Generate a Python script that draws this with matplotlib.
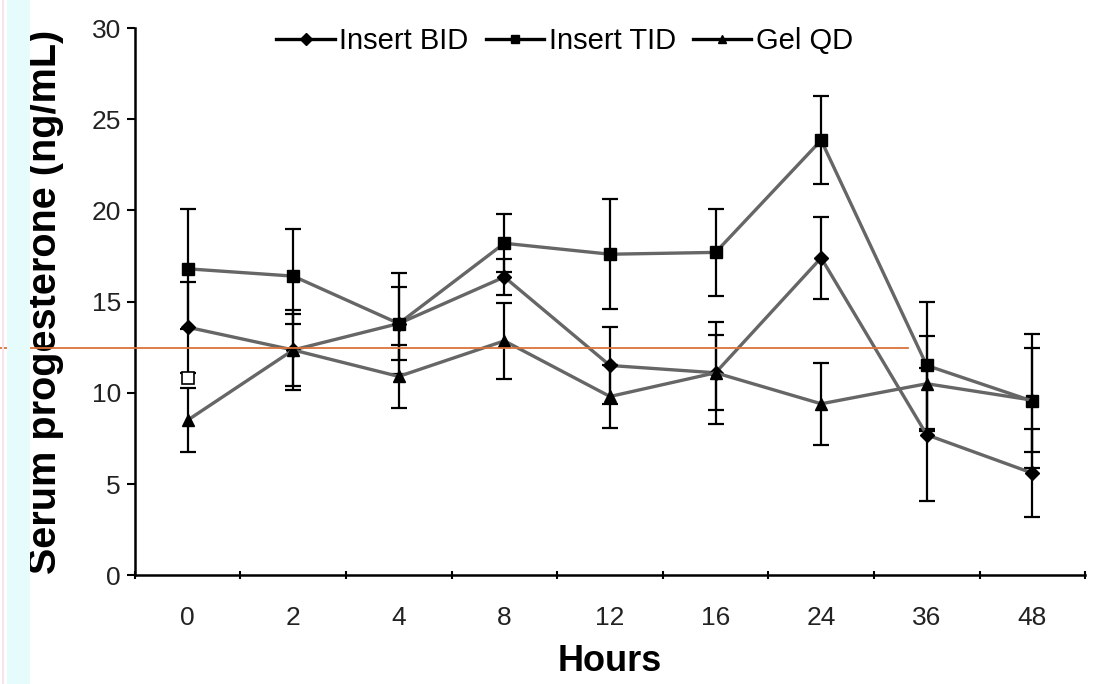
import matplotlib
matplotlib.use("Agg")
import matplotlib.pyplot as plt
from matplotlib.patches import Rectangle

plt.rcParams['font.family'] = ['Liberation Sans', 'DejaVu Sans']

# ---- data ----
hours = ["0", "2", "4", "8", "12", "16", "24", "36", "48"]
bid_mean = [13.6, 12.35, 13.8, 16.35, 11.5, 11.1, 17.4, 7.7, 5.6]
bid_err = [2.5, 2.0, 2.0, 1.0, 2.1, 2.8, 2.25, 3.65, 2.4]
tid_mean = [16.8, 16.4, 13.8, 18.2, 17.6, 17.7, 23.85, 11.5, 9.55]
tid_err = [3.3, 2.6, 2.75, 1.6, 3.0, 2.4, 2.4, 3.5, 3.65]
gel_mean = [8.5, 12.35, 10.9, 12.85, 9.8, 11.1, 9.4, 10.5, 9.6]
gel_err = [1.75, 2.2, 1.75, 2.1, 1.75, 2.05, 2.25, 2.6, 2.85]
open_mark_hour = ["0"]
open_mark_value = [10.8]
ref_line_value = 12.45
series_names = ["Insert BID", "Insert TID", "Gel QD"]
yticks = [0, 5, 10, 15, 20, 25, 30]

fig = plt.figure(figsize=(11.05, 6.84), dpi=100)
fig.patch.set_facecolor('white')
# left strip
fig.patches.append(Rectangle((0.006, 0), 0.021, 1, transform=fig.transFigure,
                             facecolor='#e6fbfb', edgecolor='none', zorder=0))
fig.patches.append(Rectangle((0.0015, 0), 0.0025, 1, transform=fig.transFigure,
                             facecolor='#f6e4ea', edgecolor='none', zorder=0))

ax = fig.add_axes([0.122, 0.159, 0.860, 0.800])
x = list(range(len(hours)))
idx = {h: i for i, h in enumerate(hours)}

line_col = '#666666'
styles = [
    (bid_mean, bid_err, 'D', 7),
    (tid_mean, tid_err, 's', 9),
    (gel_mean, gel_err, '^', 9),
]
handles = []
for (m, e, mk, ms), name in zip(styles, series_names):
    ax.errorbar(x, m, yerr=e, fmt='none', ecolor='black', elinewidth=1.6,
                capsize=6, capthick=1.6, zorder=2)
    h, = ax.plot(x, m, color=line_col, lw=2.4, marker=mk, markersize=ms,
                 markerfacecolor='black', markeredgecolor='black', zorder=3,
                 label=name)
    handles.append(h)

ax.plot([idx[h] for h in open_mark_hour], open_mark_value, linestyle='none',
        marker='s', markersize=8, markerfacecolor='white',
        markeredgecolor='black', markeredgewidth=1.2, zorder=4)

ax.set_xlim(-0.5, len(hours) - 0.5)
ax.set_ylim(0, 30)
ax.set_yticks(yticks)
ax.set_yticklabels([str(v) for v in yticks])
ax.set_xticks([i - 0.5 for i in range(len(hours) + 1)])
ax.set_xticklabels([])
ax.set_xticks(x, minor=True)
ax.set_xticklabels(hours, minor=True)
ax.tick_params(axis='x', which='minor', length=0, pad=22, labelsize=19,
               labelcolor='#222222')
ax.tick_params(axis='x', which='major', length=6, width=1.5, direction='inout')
ax.tick_params(axis='y', length=6, width=1.5, direction='out', pad=4,
               labelsize=19, labelcolor='#222222')
for s in ['top', 'right']:
    ax.spines[s].set_visible(False)
for s in ['left', 'bottom']:
    ax.spines[s].set_linewidth(1.8)

ax.set_ylabel("Serum progesterone (ng/mL)", fontsize=28.5, fontweight='bold',
              labelpad=20)
ax.set_xlabel("Hours", fontsize=26, fontweight='bold', labelpad=10)

# orange reference line extending beyond the axes
ax.axhline(ref_line_value, xmin=-0.142, xmax=0.814, color='#d9733a', lw=1.3,
           clip_on=False, zorder=5)

leg = fig.legend(handles=handles, labels=series_names, loc='center',
                 bbox_to_anchor=(0.511, 0.940), ncol=3, frameon=False,
                 fontsize=21, handlelength=2.0, handletextpad=0.15,
                 columnspacing=0.6)
for lh in leg.legend_handles:
    lh.set_color('black')
    lh.set_markersize(6)

fig.savefig("out.png", dpi=100)
